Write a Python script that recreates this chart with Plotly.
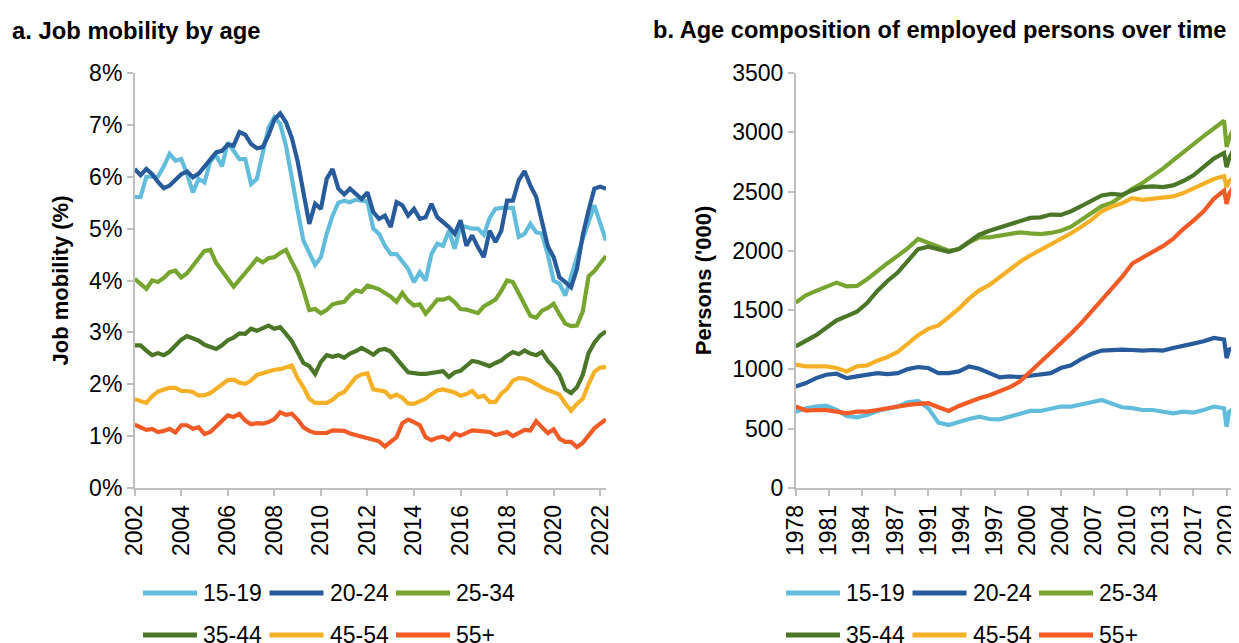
import plotly.graph_objects as go

# --- Data ---

age_groups = ["15-19", "20-24", "25-34", "35-44", "45-54", "55+"]
colors = ["#62BDDC", "#275B9B", "#78A530", "#4B7628", "#F5B027", "#F25B26"]

# a. Job mobility (%), quarterly, 2002 Q1 .. 2022 Q2
quarters = [2002 + q / 4 for q in range(82)]

mob_15_19 = [5.61, 5.61, 6.00, 5.99, 6.00, 6.20, 6.44, 6.31, 6.34, 6.05,
             5.70, 5.96, 5.89, 6.30, 6.41, 6.20, 6.66, 6.50, 6.34, 6.34,
             5.86, 5.96, 6.44, 6.95, 7.15, 7.02, 6.60, 5.95, 5.35, 4.77,
             4.51, 4.30, 4.45, 4.90, 5.25, 5.50, 5.54, 5.51, 5.56, 5.55,
             5.52, 5.00, 4.90, 4.67, 4.51, 4.51, 4.35, 4.22, 3.97, 4.16,
             4.00, 4.51, 4.71, 4.67, 4.96, 4.61, 5.06, 5.03, 5.00, 5.00,
             4.88, 5.20, 5.38, 5.40, 5.41, 5.40, 4.84, 4.90, 5.09, 4.93,
             4.90, 4.50, 4.00, 3.94, 3.71, 4.10, 4.45, 4.80, 5.10, 5.45,
             5.10, 4.77]
mob_20_24 = [6.15, 6.03, 6.15, 6.05, 5.90, 5.78, 5.83, 5.95, 6.05, 6.10,
             5.99, 6.06, 6.20, 6.34, 6.47, 6.50, 6.62, 6.60, 6.86, 6.81,
             6.63, 6.55, 6.57, 6.80, 7.10, 7.22, 7.05, 6.75, 6.30, 5.70,
             5.09, 5.48, 5.38, 5.96, 6.15, 5.77, 5.66, 5.77, 5.67, 5.57,
             5.70, 5.32, 5.19, 5.25, 5.03, 5.51, 5.45, 5.25, 5.38, 5.19,
             5.22, 5.48, 5.22, 5.12, 5.03, 4.90, 5.16, 4.67, 4.87, 4.64,
             4.45, 4.96, 4.74, 4.96, 5.54, 5.54, 5.93, 6.11, 5.83, 5.61,
             5.15, 4.66, 4.45, 4.06, 3.97, 3.87, 4.22, 4.87, 5.35, 5.77,
             5.81, 5.77]
mob_25_34 = [4.03, 3.93, 3.84, 4.00, 3.97, 4.05, 4.16, 4.19, 4.06, 4.14,
             4.30, 4.43, 4.57, 4.59, 4.34, 4.18, 4.02, 3.88, 4.01, 4.16,
             4.28, 4.42, 4.35, 4.43, 4.45, 4.53, 4.59, 4.36, 4.15, 3.81,
             3.43, 3.45, 3.37, 3.43, 3.54, 3.57, 3.59, 3.72, 3.81, 3.78,
             3.90, 3.87, 3.83, 3.76, 3.69, 3.59, 3.76, 3.61, 3.52, 3.54,
             3.36, 3.49, 3.63, 3.63, 3.67, 3.58, 3.45, 3.44, 3.40, 3.37,
             3.50, 3.57, 3.63, 3.80, 4.00, 3.97, 3.74, 3.52, 3.32, 3.28,
             3.42, 3.47, 3.55, 3.35, 3.17, 3.12, 3.13, 3.40, 4.08, 4.18,
             4.31, 4.47]
mob_35_44 = [2.75, 2.75, 2.65, 2.56, 2.60, 2.56, 2.63, 2.74, 2.86, 2.93,
             2.88, 2.84, 2.76, 2.71, 2.68, 2.75, 2.85, 2.90, 2.98, 2.97,
             3.07, 3.03, 3.08, 3.13, 3.07, 3.10, 2.97, 2.83, 2.62, 2.41,
             2.35, 2.20, 2.43, 2.56, 2.53, 2.56, 2.51, 2.59, 2.64, 2.70,
             2.64, 2.57, 2.66, 2.68, 2.63, 2.48, 2.36, 2.23, 2.21, 2.20,
             2.20, 2.22, 2.24, 2.25, 2.14, 2.23, 2.26, 2.36, 2.45, 2.43,
             2.38, 2.35, 2.41, 2.46, 2.55, 2.62, 2.58, 2.65, 2.59, 2.56,
             2.62, 2.45, 2.33, 2.18, 1.90, 1.83, 1.94, 2.18, 2.60, 2.80,
             2.94, 3.02]
mob_45_54 = [1.71, 1.67, 1.64, 1.77, 1.86, 1.90, 1.93, 1.93, 1.87, 1.87,
             1.85, 1.78, 1.79, 1.83, 1.91, 2.00, 2.08, 2.09, 2.03, 2.01,
             2.07, 2.18, 2.22, 2.25, 2.28, 2.29, 2.32, 2.36, 2.12, 1.94,
             1.72, 1.64, 1.64, 1.64, 1.70, 1.80, 1.85, 1.99, 2.13, 2.19,
             2.21, 1.90, 1.88, 1.86, 1.75, 1.80, 1.74, 1.63, 1.62, 1.66,
             1.72, 1.81, 1.88, 1.90, 1.88, 1.84, 1.78, 1.81, 1.87, 1.75,
             1.78, 1.66, 1.66, 1.82, 1.91, 2.07, 2.12, 2.11, 2.07, 2.00,
             1.94, 1.89, 1.84, 1.80, 1.63, 1.49, 1.62, 1.72, 2.00, 2.24,
             2.32, 2.33]
mob_55_plus = [1.22, 1.17, 1.12, 1.14, 1.08, 1.10, 1.14, 1.07, 1.21, 1.21,
               1.14, 1.17, 1.04, 1.08, 1.19, 1.28, 1.40, 1.37, 1.43, 1.30,
               1.23, 1.25, 1.24, 1.27, 1.33, 1.46, 1.41, 1.43, 1.32, 1.17,
               1.10, 1.06, 1.05, 1.06, 1.11, 1.10, 1.10, 1.05, 1.02, 0.98,
               0.95, 0.92, 0.90, 0.80, 0.88, 0.98, 1.25, 1.32, 1.27, 1.21,
               0.98, 0.92, 0.97, 0.99, 0.93, 1.05, 1.01, 1.05, 1.11, 1.10,
               1.10, 1.08, 1.02, 1.05, 1.08, 1.00, 1.06, 1.12, 1.11, 1.29,
               1.17, 1.06, 1.13, 0.95, 0.89, 0.89, 0.79, 0.87, 1.01, 1.15,
               1.24, 1.32]

# b. Employed persons ('000), sampled yearly from Feb 1978, plus the 2020-21 months
emp_dates = [1978.083 + n for n in range(43)] + [2020.33, 2020.58, 2021.08, 2021.55]

emp_15_19 = [644, 673, 687, 695, 658, 608, 596, 616, 650, 673, 687, 723, 735, 673, 551,
             531, 560, 582, 602, 582, 579, 602, 630, 650, 650, 673, 687, 687, 701, 723,
             743, 715, 681, 673, 658, 658, 644, 630, 644, 636, 658, 687, 673,
             517, 644, 673, 701]
emp_20_24 = [856, 885, 927, 955, 964, 927, 941, 955, 969, 961, 969, 1003, 1020, 1012, 969,
             969, 983, 1026, 1006, 969, 933, 941, 935, 947, 955, 969, 1012, 1034, 1088, 1130,
             1159, 1167, 1167, 1164, 1159, 1164, 1159, 1181, 1204, 1218, 1238, 1266, 1252,
             1096, 1167, 1181, 1210]
emp_25_34 = [1563, 1625, 1662, 1698, 1732, 1701, 1704, 1761, 1831, 1896, 1958, 2023, 2100, 2071, 2035,
             2001, 2015, 2071, 2114, 2114, 2128, 2136, 2156, 2148, 2142, 2151, 2170, 2204, 2261, 2326,
             2377, 2405, 2467, 2524, 2572, 2628, 2693, 2764, 2834, 2899, 2967, 3032, 3097,
             2877, 2947, 3046, 3075]
emp_35_44 = [1195, 1238, 1289, 1351, 1413, 1450, 1486, 1560, 1662, 1746, 1817, 1916, 2015, 2035, 2015,
             1992, 2015, 2071, 2136, 2170, 2199, 2227, 2255, 2278, 2283, 2306, 2303, 2334, 2377, 2425,
             2467, 2481, 2473, 2510, 2538, 2543, 2538, 2552, 2589, 2637, 2713, 2778, 2826,
             2707, 2778, 2863, 2947]
emp_45_54 = [1040, 1026, 1026, 1026, 1012, 983, 1026, 1034, 1074, 1105, 1147, 1215, 1289, 1342, 1371,
             1441, 1512, 1597, 1667, 1713, 1780, 1851, 1908, 1961, 2006, 2052, 2105, 2148, 2204, 2261,
             2334, 2374, 2402, 2444, 2430, 2439, 2453, 2459, 2487, 2529, 2566, 2606, 2631,
             2538, 2589, 2617, 2656]
emp_55_plus = [687, 653, 658, 656, 644, 630, 644, 644, 658, 673, 687, 701, 709, 715, 681,
               650, 692, 729, 757, 783, 814, 851, 899, 978, 1068, 1147, 1218, 1303, 1390, 1486,
               1591, 1684, 1780, 1893, 1939, 1992, 2040, 2100, 2184, 2255, 2334, 2439, 2509,
               2396, 2481, 2552, 2622]

mobility = [mob_15_19, mob_20_24, mob_25_34, mob_35_44, mob_45_54, mob_55_plus]
employed = [emp_15_19, emp_20_24, emp_25_34, emp_35_44, emp_45_54, emp_55_plus]

# x-axis labels of panel b: one every 39 months from Feb 1978
b_tick_labels = ["1978", "1981", "1984", "1987", "1991", "1994", "1997",
                 "2000", "2004", "2007", "2010", "2013", "2017", "2020"]
b_tick_vals = [1978.083 + 3.25 * i for i in range(len(b_tick_labels))]

# --- Layout helpers (screen pixel -> paper; the page body adds an 8px offset) ---

W, H = 1239, 643
OFFSET = 8
FONT = "Liberation Sans, Arial, sans-serif"
AXIS_GREY = "#BFBFBF"


def px(x):
    return (x - OFFSET) / W


def py(y):
    return 1 - (y - OFFSET) / H


fig = go.Figure()

for name, color, ys in zip(age_groups, colors, mobility):
    fig.add_trace(go.Scatter(x=quarters, y=ys, mode="lines", name=name,
                             line=dict(color=color, width=4.2),
                             xaxis="x", yaxis="y", showlegend=False))

for name, color, ys in zip(age_groups, colors, employed):
    fig.add_trace(go.Scatter(x=emp_dates, y=ys, mode="lines", name=name,
                             line=dict(color=color, width=4.2),
                             xaxis="x2", yaxis="y2", showlegend=False))

axis_common = dict(showgrid=False, zeroline=False, showline=True, automargin=False,
                   linecolor=AXIS_GREY, linewidth=1.5,
                   ticks="outside", ticklen=6, tickcolor=AXIS_GREY, tickwidth=1.5,
                   tickfont=dict(size=23, color="black"))

y_dom = [py(488), py(73)]

fig.update_layout(
    width=W, height=H,
    margin=dict(l=0, r=0, t=0, b=0, autoexpand=False),
    paper_bgcolor="white", plot_bgcolor="white",
    font=dict(family=FONT, color="black"),
    xaxis=dict(domain=[px(134.7), px(606)], range=[2002, 2022.25],
               tickvals=list(range(2002, 2023, 2)), tickangle=-90,
               anchor="y", **axis_common),
    yaxis=dict(domain=y_dom, range=[0, 8], dtick=1, ticksuffix="%",
               anchor="x",
               title=dict(text="<b>Job mobility (%)</b>", standoff=14,
                          font=dict(size=22)),
               **axis_common),
    xaxis2=dict(domain=[px(795.7), px(1239)], range=[1978.083, 2021.55],
                tickvals=b_tick_vals, ticktext=b_tick_labels, tickangle=-90,
                anchor="y2", **axis_common),
    yaxis2=dict(domain=y_dom, range=[0, 3500], dtick=500, anchor="x2",
                title=dict(text="<b>Persons ('000)</b>", standoff=14,
                           font=dict(size=22)),
                **axis_common),
)

# Panel titles
fig.add_annotation(x=px(10), y=py(30), xref="paper", yref="paper",
                   xanchor="left", yanchor="middle", showarrow=False,
                   text="<b>a. Job mobility by age</b>", font=dict(size=23.8))
fig.add_annotation(x=px(651), y=py(30), xref="paper", yref="paper",
                   xanchor="left", yanchor="middle", showarrow=False,
                   text="<b>b. Age composition of employed persons over time</b>",
                   font=dict(size=23.6))

# Legends under each panel (3 entries per row)
for panel_x in (143, 786):
    for i, (name, color) in enumerate(zip(age_groups, colors)):
        x0 = panel_x + 126.5 * (i % 3)
        y0 = 593 + 42 * (i // 3)
        fig.add_shape(type="line", xref="paper", yref="paper",
                      x0=px(x0), x1=px(x0 + 54), y0=py(y0), y1=py(y0),
                      line=dict(color=color, width=5))
        fig.add_annotation(x=px(x0 + 58), y=py(y0), xref="paper", yref="paper",
                           xanchor="left", yanchor="middle", showarrow=False,
                           text=name, font=dict(size=23))

fig.write_html("out.html")
